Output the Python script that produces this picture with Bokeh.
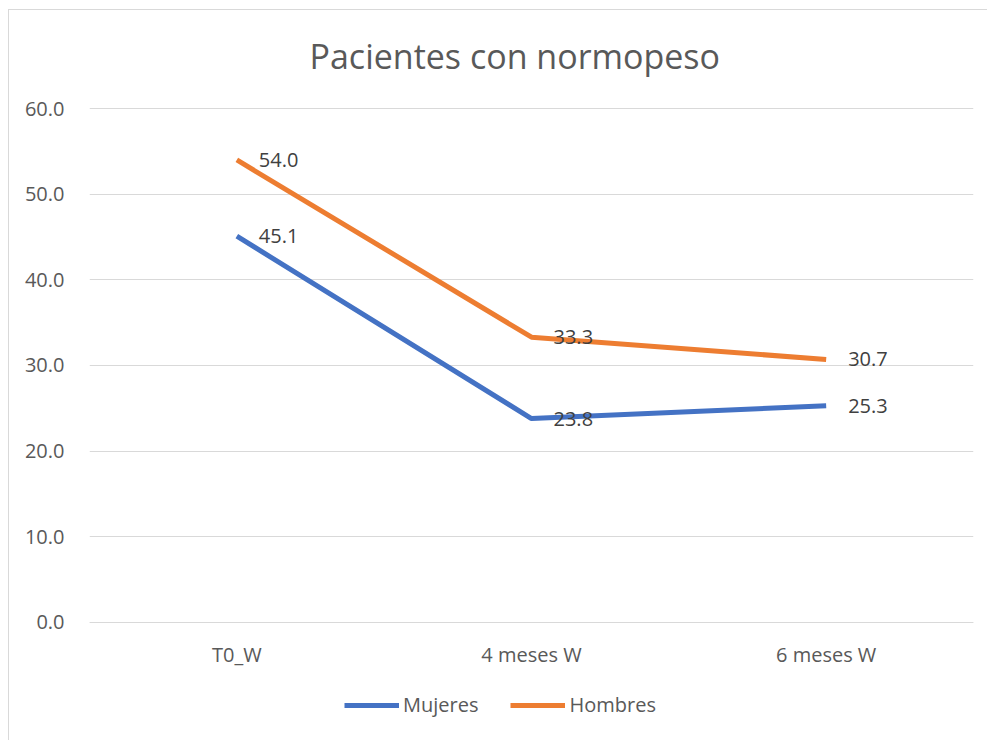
from bokeh.plotting import figure
from bokeh.models import (ColumnDataSource, Legend, LegendItem, FixedTicker, Label,
                          FactorRange, Range1d, PrintfTickFormatter)
from bokeh.core.properties import value
from bokeh.embed import file_html
from bokeh.resources import INLINE

categories = ["T0_W", "4 meses W", "6 meses W"]
mujeres = [45.1, 23.8, 25.3]
hombres = [54.0, 33.3, 30.7]
y_ticks = [0, 10, 20, 30, 40, 50, 60]
title_text = "Pacientes con normopeso"

FONT = "Open Sans"
BLUE = "#4472C4"
ORANGE = "#ED7D31"

p = figure(width=979, height=731, x_range=FactorRange(*categories, range_padding=0),
           y_range=Range1d(-12.75, 70.29), output_backend="svg", toolbar_location=None,
           min_border_left=80, min_border_right=15, min_border_top=10, min_border_bottom=10,
           margin=(9, 0, 0, 8))
p.styles = {"border-left": "1px solid #D9D9D9", "border-top": "1px solid #D9D9D9"}
p.outline_line_color = None
p.background_fill_color = "white"
p.border_fill_color = "white"

src_m = ColumnDataSource(dict(x=categories, y=mujeres, lab=["%.1f" % v for v in mujeres]))
src_h = ColumnDataSource(dict(x=categories, y=hombres, lab=["%.1f" % v for v in hombres]))

lm = p.line("x", "y", source=src_m, line_color=BLUE, line_width=5)
lh = p.line("x", "y", source=src_h, line_color=ORANGE, line_width=5)

for src in (src_h, src_m):
    p.text("x", "y", text="lab", source=src, x_offset=22, text_align="left",
           text_baseline="middle", text_font=value(FONT), text_font_size="20px",
           text_color="#404040")

p.yaxis.ticker = FixedTicker(ticks=y_ticks)
p.yaxis.formatter = PrintfTickFormatter(format="%.1f")
for ax in (p.xaxis, p.yaxis):
    ax.major_tick_line_color = None
    ax.minor_tick_line_color = None
    ax.major_label_text_font = FONT
    ax.major_label_text_font_size = "20px"
    ax.major_label_text_color = "#595959"
p.yaxis.axis_line_color = None
p.xaxis.fixed_location = 0
p.xaxis.axis_line_color = "#D9D9D9"
p.yaxis.major_label_standoff = 19
p.xaxis.major_label_standoff = 13
p.xgrid.grid_line_color = None
p.ygrid.grid_line_color = "#D9D9D9"
p.ygrid.grid_line_width = 1

p.add_layout(Label(x=220, y=676, x_units="screen", y_units="screen", text=title_text,
                   text_align="left", text_baseline="middle",
                   text_font=FONT, text_font_size="34px", text_color="#595959"))

legend = Legend(items=[LegendItem(label="Mujeres", renderers=[lm]),
                       LegendItem(label="Hombres", renderers=[lh])],
                orientation="horizontal", location=(255, 13),
                glyph_width=55, glyph_height=20, label_standoff=4, spacing=32,
                padding=0, margin=0, border_line_color=None,
                background_fill_alpha=0,
                label_text_font=FONT, label_text_font_size="20px",
                label_text_color="#595959")
p.add_layout(legend, "center")

open("out.html", "w").write(file_html(p, INLINE))
